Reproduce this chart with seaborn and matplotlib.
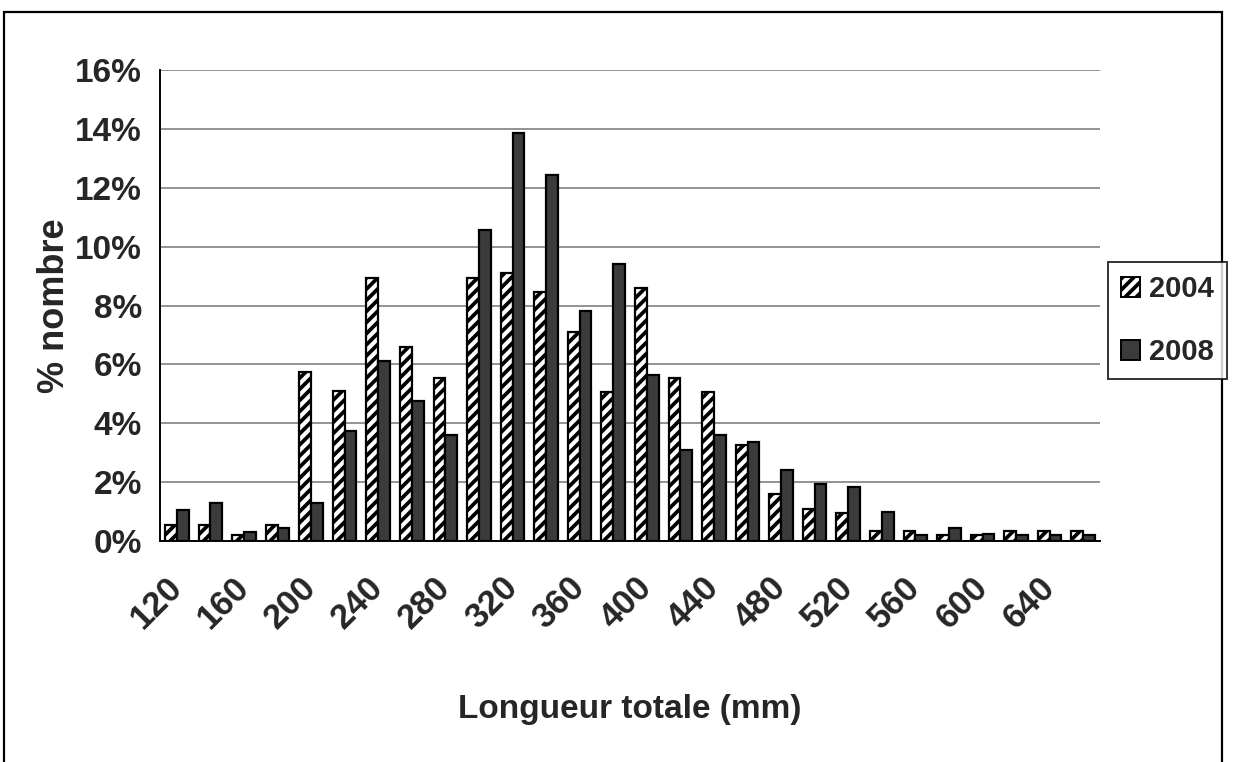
import matplotlib
matplotlib.use("Agg")
import matplotlib.pyplot as plt
from matplotlib.patches import Patch, Rectangle
from matplotlib.ticker import FixedLocator, FuncFormatter
import seaborn as sns
import pandas as pd

# Length classes (mm) and share of fish in each class (%)
lengths = [120, 140, 160, 180, 200, 220, 240, 260, 280, 300, 320, 340, 360, 380,
           400, 420, 440, 460, 480, 500, 520, 540, 560, 580, 600, 620, 640, 660]
pct_2004 = [0.55, 0.55, 0.2, 0.55, 5.75, 5.1, 8.95, 6.6, 5.55, 8.95, 9.1, 8.45, 7.1, 5.05,
            8.6, 5.55, 5.05, 3.25, 1.6, 1.1, 0.95, 0.35, 0.35, 0.2, 0.2, 0.35, 0.35, 0.35]
pct_2008 = [1.05, 1.3, 0.3, 0.45, 1.3, 3.75, 6.1, 4.75, 3.6, 10.55, 13.85, 12.45, 7.8, 9.4,
            5.65, 3.1, 3.6, 3.35, 2.4, 1.95, 1.85, 1.0, 0.2, 0.45, 0.25, 0.2, 0.2, 0.2]
years = ["2004", "2008"]
y_ticks = [0, 2, 4, 6, 8, 10, 12, 14, 16]

df = pd.DataFrame({
    "Longueur": [str(v) for v in lengths] * 2,
    "pct": pct_2004 + pct_2008,
    "year": [years[0]] * len(lengths) + [years[1]] * len(lengths),
})

sns.set_theme(style="white")
FONT = ["Liberation Sans Narrow", "Liberation Sans", "DejaVu Sans"]
plt.rcParams["font.family"] = FONT
plt.rcParams["font.weight"] = "bold"
plt.rcParams["hatch.linewidth"] = 2.7
plt.rcParams["hatch.color"] = "black"

fig = plt.figure(figsize=(12.33, 7.62), dpi=100)
fig.patch.set_facecolor("white")
ax = fig.add_axes([160 / 1233, 1 - 541 / 762, 940 / 1233, (541 - 70) / 762])

DARK = "#3b3b3b"
sns.barplot(data=df, x="Longueur", y="pct", hue="year", hue_order=years,
            palette={"2004": "white", "2008": DARK}, width=0.70,
            edgecolor="black", linewidth=1.6, saturation=1, legend=False, ax=ax)

for bar in ax.containers[0]:
    bar.set_hatch("///")

ax.set_ylim(0, 16)
ax.set_xlim(-0.5, len(lengths) - 0.5)

# horizontal gridlines
ax.yaxis.set_major_locator(FixedLocator(y_ticks))
ax.yaxis.set_major_formatter(FuncFormatter(lambda v, p: f"{int(v)}%"))
ax.grid(axis="y", color="#8a8a8a", linewidth=1.3)
ax.set_axisbelow(True)

# x ticks at class boundaries, labels on every other class
n = len(lengths)
ax.xaxis.set_major_locator(FixedLocator([i - 0.5 for i in range(n + 1)]))
ax.xaxis.set_major_formatter(FuncFormatter(lambda v, p: ""))
label_pos = list(range(0, n - 1, 2))
ax.xaxis.set_minor_locator(FixedLocator(label_pos))
ax.set_xticks(label_pos, [str(lengths[i]) for i in label_pos], minor=True)
ax.tick_params(axis="x", which="major", direction="out", length=9, width=1.2, color="black")
ax.tick_params(axis="x", which="minor", length=0, pad=30, labelsize=25)
for lab in ax.get_xticklabels(minor=True):
    lab.set_rotation(45)
    lab.set_rotation_mode("anchor")
    lab.set_ha("right")
    lab.set_va("center")
    lab.set_fontweight("bold")
    lab.set_family(FONT)

ax.tick_params(axis="y", direction="inout", length=10, width=1.2, color="black",
               labelsize=24, pad=8)
for lab in ax.get_yticklabels():
    lab.set_fontweight("bold")

for side in ["top", "right"]:
    ax.spines[side].set_visible(False)
for side in ["left", "bottom"]:
    ax.spines[side].set_color("black")
    ax.spines[side].set_linewidth(1.4)

ax.set_xlabel("Longueur totale (mm)", fontsize=24, fontweight="bold", labelpad=42)
ax.set_ylabel("% nombre", fontsize=26, fontweight="bold", labelpad=2)

handles = [Patch(facecolor="white", edgecolor="black", hatch="///", linewidth=1.4),
           Patch(facecolor=DARK, edgecolor="black", linewidth=1.4)]
leg = fig.legend(handles, years, loc="upper left",
                 bbox_to_anchor=(1108 / 1233, 1 - 262 / 762),
                 frameon=True, fancybox=False, edgecolor="black",
                 prop={"size": 21, "weight": "bold", "family": FONT},
                 handlelength=0.65, handleheight=0.65, handletextpad=0.3,
                 labelspacing=1.2, borderpad=0.45, borderaxespad=0)
leg.get_frame().set_linewidth(1.4)

# outer chart frame
fig.add_artist(Rectangle((4 / 1233, -0.02), 1218 / 1233, 1 - 12 / 762 + 0.02,
                         transform=fig.transFigure, fill=False,
                         edgecolor="black", linewidth=1.6))

fig.savefig("out.png", dpi=100, facecolor="white")
